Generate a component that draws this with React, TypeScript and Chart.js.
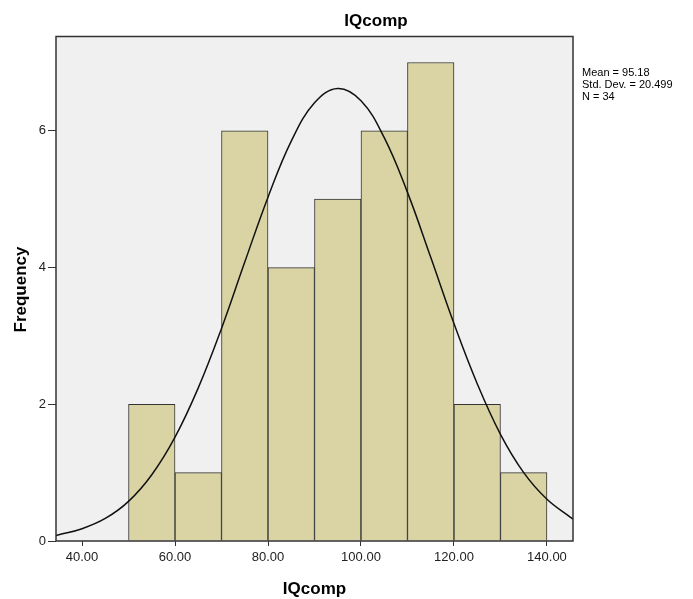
import React, { useEffect, useRef } from 'react';
import { Chart, registerables } from 'chart.js';

Chart.register(...registerables);

const binCenters = [55, 65, 75, 85, 95, 105, 115, 125, 135];
const frequencies = [2, 1, 6, 4, 5, 6, 7, 2, 1];
const curveX = [34.4, 35, 40, 45, 50, 55, 60, 65, 70, 75, 80, 85, 90, 95, 100, 105, 110, 115, 120, 125, 130, 135, 140, 145, 145.6];
const curveY = [0.08, 0.09, 0.18, 0.33, 0.58, 0.97, 1.52, 2.24, 3.11, 4.08, 5.03, 5.85, 6.41, 6.62, 6.44, 5.9, 5.1, 4.15, 3.18, 2.3, 1.56, 1.0, 0.61, 0.35, 0.32];
const xTicks = [40, 60, 80, 100, 120, 140];
const yTicks = [0, 2, 4, 6];
const statLines = ['Mean = 95.18', 'Std. Dev. = 20.499', 'N = 34'];
const chartTitle = 'IQcomp';
const xTitle = 'IQcomp';
const yTitle = 'Frequency';

const FONT = '"Liberation Sans", Arial, sans-serif';

export default function App() {
  const ref = useRef<HTMLCanvasElement | null>(null);

  useEffect(() => {
    const canvas = ref.current;
    if (!canvas) return;

    const decor = {
      id: 'decor',
      beforeDraw(chart: any) {
        const { ctx, chartArea: a } = chart;
        ctx.save();
        ctx.fillStyle = '#f0f0f0';
        ctx.fillRect(a.left, a.top, a.right - a.left, a.bottom - a.top);
        ctx.restore();
      },
      afterDatasetsDraw(chart: any) {
        const { ctx, chartArea: a } = chart;
        ctx.save();
        ctx.strokeStyle = '#333';
        ctx.lineWidth = 1.5;
        ctx.strokeRect(a.left, a.top, a.right - a.left, a.bottom - a.top);
        ctx.restore();
      },
      afterDraw(chart: any) {
        const { ctx } = chart;
        ctx.save();
        ctx.fillStyle = '#000';
        ctx.font = `bold 17px ${FONT}`;
        ctx.textAlign = 'center';
        ctx.textBaseline = 'alphabetic';
        ctx.fillText(chartTitle, 376, 26);
        ctx.fillText(xTitle, 314.5, 594);
        ctx.save();
        ctx.translate(26, 289.5);
        ctx.rotate(-Math.PI / 2);
        ctx.fillText(yTitle, 0, 0);
        ctx.restore();
        ctx.font = `11px ${FONT}`;
        ctx.textAlign = 'left';
        statLines.forEach((s, i) => ctx.fillText(s, 582, 76 + i * 12));
        ctx.restore();
      },
    };

    const chart = new Chart(canvas, {
      type: 'bar',
      data: {
        datasets: [
          {
            type: 'line',
            data: curveX.map((x, i) => ({ x, y: curveY[i] })),
            borderColor: '#111',
            borderWidth: 1.5,
            pointRadius: 0,
            tension: 0.4,
            fill: false,
            order: 1,
          } as any,
          {
            type: 'bar',
            data: binCenters.map((x, i) => ({ x, y: frequencies[i] })),
            backgroundColor: '#dad4a4',
            borderColor: '#333',
            borderWidth: 1,
            barPercentage: 1,
            categoryPercentage: 1,
            order: 2,
          } as any,
        ],
      },
      options: {
        animation: false,
        responsive: false,
        devicePixelRatio: 1,
        layout: { padding: { left: 0, top: 36.5, right: 120, bottom: 0 } },
        plugins: { legend: { display: false }, tooltip: { enabled: false }, title: { display: false } },
        scales: {
          x: {
            type: 'linear',
            min: 34.4,
            max: 145.6,
            offset: false,
            afterBuildTicks: (s: any) => { s.ticks = xTicks.map((v) => ({ value: v })); },
            afterFit: (s: any) => { s.height = 58; },
            ticks: {
              autoSkip: false,
              maxRotation: 0,
              padding: 4,
              color: '#222',
              font: { family: FONT, size: 13 },
              callback: (v: any) => Number(v).toFixed(2),
            },
            grid: { offset: false, drawOnChartArea: false, drawTicks: true, tickLength: 5, color: '#333' },
            border: { display: false },
          },
          y: {
            type: 'linear',
            min: 0,
            max: 7.38,
            afterBuildTicks: (s: any) => { s.ticks = yTicks.map((v) => ({ value: v })); },
            afterFit: (s: any) => { s.width = 56; },
            ticks: {
              autoSkip: false,
              padding: 2,
              color: '#222',
              font: { family: FONT, size: 13 },
              callback: (v: any) => String(v),
            },
            grid: { offset: false, drawOnChartArea: false, drawTicks: true, tickLength: 8, color: '#333' },
            border: { display: false },
          },
        },
      } as any,
      plugins: [decor],
    });

    return () => chart.destroy();
  }, []);

  return (
    <div style={{ position: 'absolute', left: 0, top: 0, width: 693, height: 599, background: '#fff' }}>
      <canvas ref={ref} width={693} height={599} style={{ display: 'block', width: 693, height: 599 }} />
    </div>
  );
}
